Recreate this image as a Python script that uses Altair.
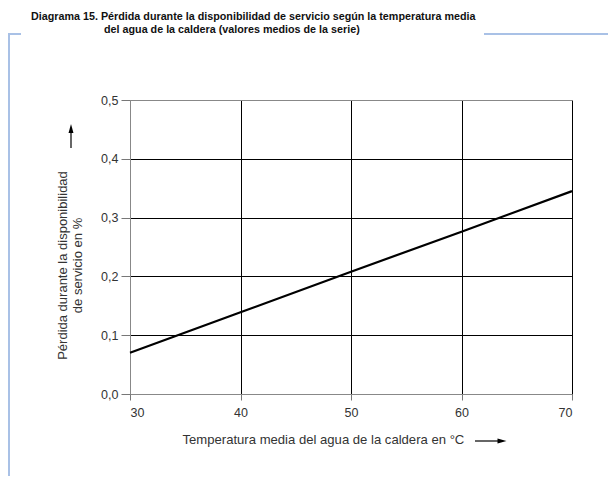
import altair as alt
import pandas as pd

# ---- data ----
temperatura = [30, 40, 50, 60, 70]
perdida = [0.070, 0.139, 0.208, 0.276, 0.345]
x_ticks = [30, 40, 50, 60, 70]
y_ticks = [0.0, 0.1, 0.2, 0.3, 0.4, 0.5]

titulo_1 = "Diagrama 15. Pérdida durante la disponibilidad de servicio según la temperatura media"
titulo_2 = "del agua de la caldera (valores medios de la serie)"
y_titulo = ["Pérdida durante la disponibilidad", "de servicio en %"]
x_titulo = "Temperatura media del agua de la caldera en °C"

df = pd.DataFrame({"t": temperatura, "p": perdida})

W, H = 442, 294
FONT = "Liberation Sans"
FRAME = "#a9c1e6"
one = alt.Data(values=[{}])

line = alt.Chart(df).mark_line(color="black", strokeWidth=2.2).encode(
    x=alt.X("t:Q",
            scale=alt.Scale(domain=[30, 70], nice=False, zero=False),
            axis=alt.Axis(values=x_ticks, title=x_titulo,
                          titleX=52, titleY=49, titleAlign="left",
                          titleBaseline="alphabetic", titleAnchor="start",
                          titleFont=FONT, titleFontSize=13.1, titleFontWeight="normal",
                          titleColor="#333",
                          labelFont=FONT, labelFontSize=12.5, labelColor="#333",
                          labelPadding=6, tickSize=6, tickColor="#777",
                          domainColor="#888",
                          gridColor={"condition": {"test": "datum.value <= 30.5", "value": "#888"},
                                     "value": "black"},
                          gridWidth=1)),
    y=alt.Y("p:Q",
            scale=alt.Scale(domain=[0, 0.5], nice=False),
            axis=alt.Axis(values=y_ticks, title=y_titulo,
                          labelExpr="replace(format(datum.value, '.1f'), '.', ',')",
                          titleAngle=270, titleX=-64, titleY=165,
                          titleAlign="center", titleBaseline="alphabetic",
                          titleLineHeight=15,
                          titleFont=FONT, titleFontSize=13, titleFontWeight="normal",
                          titleColor="#333",
                          labelFont=FONT, labelFontSize=12.5, labelColor="#333",
                          labelPadding=3, tickSize=9, tickColor="#777",
                          domainColor="#888",
                          gridColor={"condition": {"test": "datum.value >= 0.49", "value": "#888"},
                                     "value": "black"},
                          gridWidth=1)),
)

# frame decoration (light blue)
frame_v = alt.Chart(one).mark_rule(color=FRAME, strokeWidth=2).encode(
    x=alt.value(-121), y=alt.value(-66), y2=alt.value(384))
frame_l = alt.Chart(one).mark_rule(color=FRAME, strokeWidth=2).encode(
    x=alt.value(-122), x2=alt.value(-109), y=alt.value(-66))
frame_r = alt.Chart(one).mark_rule(color=FRAME, strokeWidth=2).encode(
    x=alt.value(354), x2=alt.value(490), y=alt.value(-66))

tstyle = dict(align="left", baseline="alphabetic", font=FONT,
              fontSize=10.75, fontWeight="bold", color="#111")
t1 = alt.Chart(one).mark_text(**tstyle).encode(
    x=alt.value(-99), y=alt.value(-80), text=alt.value(titulo_1))
t2 = alt.Chart(one).mark_text(**tstyle).encode(
    x=alt.value(-26), y=alt.value(-67), text=alt.value(titulo_2))

# arrows
up_shaft = alt.Chart(one).mark_rule(color="black", strokeWidth=1.2).encode(
    x=alt.value(-59), y=alt.value(31), y2=alt.value(48))
up_head = alt.Chart(one).mark_point(shape="M0,-1L0.55,1L-0.55,1Z", filled=True,
                                    color="black", size=81, opacity=1).encode(
    x=alt.value(-59), y=alt.value(28.5))
rt_shaft = alt.Chart(one).mark_rule(color="black", strokeWidth=1.2).encode(
    x=alt.value(345), x2=alt.value(369), y=alt.value(341))
rt_head = alt.Chart(one).mark_point(shape="M1,0L-1,-0.55L-1,0.55Z", filled=True,
                                    color="black", size=81, opacity=1).encode(
    x=alt.value(372), y=alt.value(341))

chart = alt.layer(line, frame_v, frame_l, frame_r, t1, t2,
                  up_shaft, up_head, rt_shaft, rt_head).properties(
    width=W, height=H,
    autosize=alt.AutoSizeParams(type="none"),
    padding={"left": 122, "top": 92, "right": 36, "bottom": 82},
).configure_view(stroke=None).configure(background="white")

chart.save("out.html", embed_options={"renderer": "svg", "actions": False})
